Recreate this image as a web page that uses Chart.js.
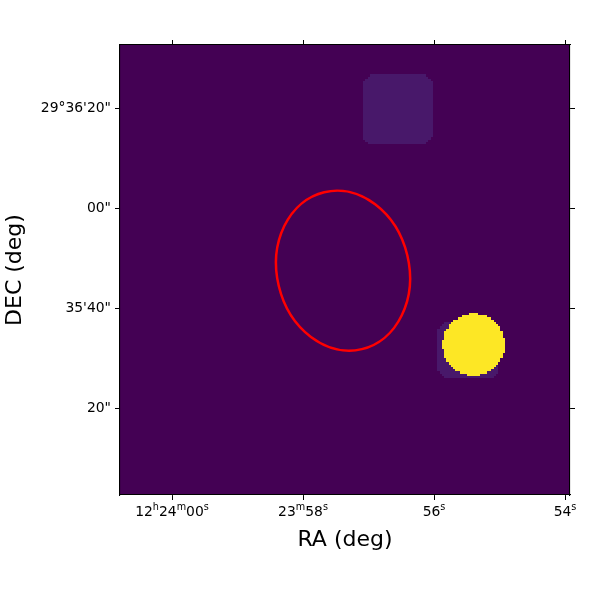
<!DOCTYPE html>
<html>
<head>
<meta charset="utf-8">
<script src="https://cdn.jsdelivr.net/npm/chart.js@4/dist/chart.umd.min.js"></script>
<style>
  html, body { margin: 0; padding: 0; background: #fff; }
  #wrap { width: 600px; height: 600px; }
</style>
</head>
<body>
<div id="wrap"><canvas id="sky"></canvas></div>
<script>
// ---- axes: RA in seconds past 12h23m, DEC in arcsec past 29d35m ----
var raRange = [53.924, 60.794];
var decRange = [2.76, 92.64];
var raTicks = [60, 58, 56, 54];
// odd entries are superscripts
var raLabels = [['12', 'h', '24', 'm', '00', 's'], ['23', 'm', '58', 's'], ['56', 's'], ['54', 's']];
var decTicks = [80, 60, 40, 20];
var decLabels = ['29°36\'20"', '00"', '35\'40"', '20"'];
var decDeg = 29.596;

// ---- image content ----
// faint square patches: [raLow, raHigh], [decLow, decHigh], level
var patchRa = [[56.031, 57.084], [55.008, 55.939]];
var patchDec = [[72.67, 86.65], [26.14, 37.32]];
var patchLevel = [0.07, 0.07];
// bright source: centre ra, dec, radius (arcsec)
var srcRa = [55.397];
var srcDec = [32.83];
var srcRadius = [6.19];
var srcLevel = [1];
// region ellipse: centre ra, dec, semi axes (arcsec), tilt (deg)
var regionRa = [57.389];
var regionDec = [47.57];
var regionMajor = [16.12];
var regionMinor = [13.2];
var regionTilt = [-13.5];

var gridCells = 200;

// viridis, just the ends we need
function viridis(v) {
    if (v >= 0.5) return '#fde725';
    if (v > 0.03) return '#48186a';
    return '#440154';
}

function pixelLevel(ra, dec) {
    var v = 0;
    var secToArc = 15 * Math.cos(decDeg * Math.PI / 180);
    for (var i = 0; i < patchRa.length; i++) {
        var r0 = patchRa[i][0], r1 = patchRa[i][1];
        var d0 = patchDec[i][0], d1 = patchDec[i][1];
        if (ra >= r0 && ra <= r1 && dec >= d0 && dec <= d1) {
            // trim the corners a little
            var ex = Math.min(ra - r0, r1 - ra) * secToArc;
            var ey = Math.min(dec - d0, d1 - dec);
            if (ex + ey > 1.4) v = Math.max(v, patchLevel[i]);
        }
    }
    for (var j = 0; j < srcRa.length; j++) {
        var dx = (ra - srcRa[j]) * secToArc;
        var dy = dec - srcDec[j];
        if (dx * dx + dy * dy <= srcRadius[j] * srcRadius[j]) v = Math.max(v, srcLevel[j]);
    }
    return v;
}

var skyImage = {
    id: 'skyImage',
    beforeDatasetsDraw: function (chart) {
        var ctx = chart.ctx, area = chart.chartArea;
        var xs = chart.scales.x, ys = chart.scales.y;
        ctx.save();
        ctx.beginPath();
        ctx.rect(area.left, area.top, area.right - area.left, area.bottom - area.top);
        ctx.clip();
        ctx.fillStyle = viridis(0);
        ctx.fillRect(area.left, area.top, area.right - area.left, area.bottom - area.top);
        var cw = (area.right - area.left) / gridCells;
        var ch = (area.bottom - area.top) / gridCells;
        for (var i = 0; i < gridCells; i++) {
            var px = area.left + (i + 0.5) * cw;
            var ra = xs.getValueForPixel(px);
            for (var k = 0; k < gridCells; k++) {
                var py = area.top + (k + 0.5) * ch;
                var v = pixelLevel(ra, ys.getValueForPixel(py));
                if (v <= 0) continue;
                var x0 = Math.round(area.left + i * cw), x1 = Math.round(area.left + (i + 1) * cw);
                var y0 = Math.round(area.top + k * ch), y1 = Math.round(area.top + (k + 1) * ch);
                ctx.fillStyle = viridis(v);
                ctx.fillRect(x0, y0, x1 - x0, y1 - y0);
            }
        }
        // region ellipse
        var pxArc = Math.abs(ys.getPixelForValue(1) - ys.getPixelForValue(0));
        ctx.strokeStyle = '#ff0000';
        ctx.lineWidth = 2.5;
        for (var e = 0; e < regionRa.length; e++) {
            ctx.beginPath();
            ctx.ellipse(xs.getPixelForValue(regionRa[e]), ys.getPixelForValue(regionDec[e]),
                regionMinor[e] * pxArc, regionMajor[e] * pxArc,
                regionTilt[e] * Math.PI / 180, 0, 2 * Math.PI);
            ctx.stroke();
        }
        ctx.restore();
    },
    // RA tick labels with real superscripts
    afterDraw: function (chart) {
        var ctx = chart.ctx, xs = chart.scales.x;
        var big = '13.9px "DejaVu Sans"', small = '9.7px "DejaVu Sans"';
        var base = chart.chartArea.bottom + 21;
        ctx.save();
        ctx.fillStyle = '#000';
        ctx.textBaseline = 'alphabetic';
        ctx.textAlign = 'left';
        raTicks.forEach(function (t, n) {
            var parts = raLabels[n], total = 0;
            parts.forEach(function (s, k) {
                ctx.font = k % 2 ? small : big;
                total += ctx.measureText(s).width;
            });
            var x = xs.getPixelForValue(t) - total / 2;
            parts.forEach(function (s, k) {
                ctx.font = k % 2 ? small : big;
                ctx.fillText(s, x, k % 2 ? base - 6.5 : base);
                x += ctx.measureText(s).width;
            });
        });
        ctx.restore();
    }
};

function setTicks(values) {
    return function (scale) {
        scale.ticks = values.map(function (v) { return { value: v }; });
    };
}
function fixSize(w, h) {
    return function (scale) {
        if (w !== null) scale.width = w;
        if (h !== null) scale.height = h;
    };
}

var tickFont = { family: 'DejaVu Sans', size: 13.9 };
var titleFont = { family: 'DejaVu Sans', size: 22 };
var gridOpts = { drawOnChartArea: false, drawTicks: true, tickLength: 5, color: '#000', lineWidth: 1 };
var borderOpts = { display: true, color: '#000', width: 1.1, z: 1 };

new Chart(document.getElementById('sky'), {
    type: 'scatter',
    data: { datasets: [{ data: [] }] },
    options: {
        responsive: true,
        maintainAspectRatio: false,
        animation: false,
        layout: { padding: 0 },
        plugins: { legend: { display: false }, tooltip: { enabled: false } },
        scales: {
            x: {
                type: 'linear', position: 'bottom', reverse: true,
                min: raRange[0], max: raRange[1],
                afterBuildTicks: setTicks(raTicks),
                afterFit: fixSize(null, 105),
                grid: gridOpts, border: borderOpts,
                ticks: { autoSkip: false, maxRotation: 0, callback: function () { return ''; } },
                title: { display: true, text: 'RA (deg)', color: '#000', font: titleFont, padding: { bottom: 47 } }
            },
            x2: {
                type: 'linear', position: 'top', reverse: true,
                min: raRange[0], max: raRange[1],
                afterBuildTicks: setTicks(raTicks),
                afterFit: fixSize(null, 45),
                grid: gridOpts, border: borderOpts,
                ticks: { autoSkip: false, callback: function () { return ''; } }
            },
            y: {
                type: 'linear', position: 'left',
                min: decRange[0], max: decRange[1],
                afterBuildTicks: setTicks(decTicks),
                afterFit: fixSize(120, null),
                grid: gridOpts, border: borderOpts,
                ticks: {
                    color: '#000', font: tickFont, padding: 4, autoSkip: false,
                    callback: function (v) { return decLabels[decTicks.indexOf(v)]; }
                },
                title: { display: true, text: 'DEC (deg)', color: '#000', font: titleFont, padding: { top: 2 } }
            },
            y2: {
                type: 'linear', position: 'right',
                min: decRange[0], max: decRange[1],
                afterBuildTicks: setTicks(decTicks),
                afterFit: fixSize(30, null),
                grid: gridOpts, border: borderOpts,
                ticks: { autoSkip: false, callback: function () { return ''; } }
            }
        }
    },
    plugins: [skyImage]
});
</script>
</body>
</html>
